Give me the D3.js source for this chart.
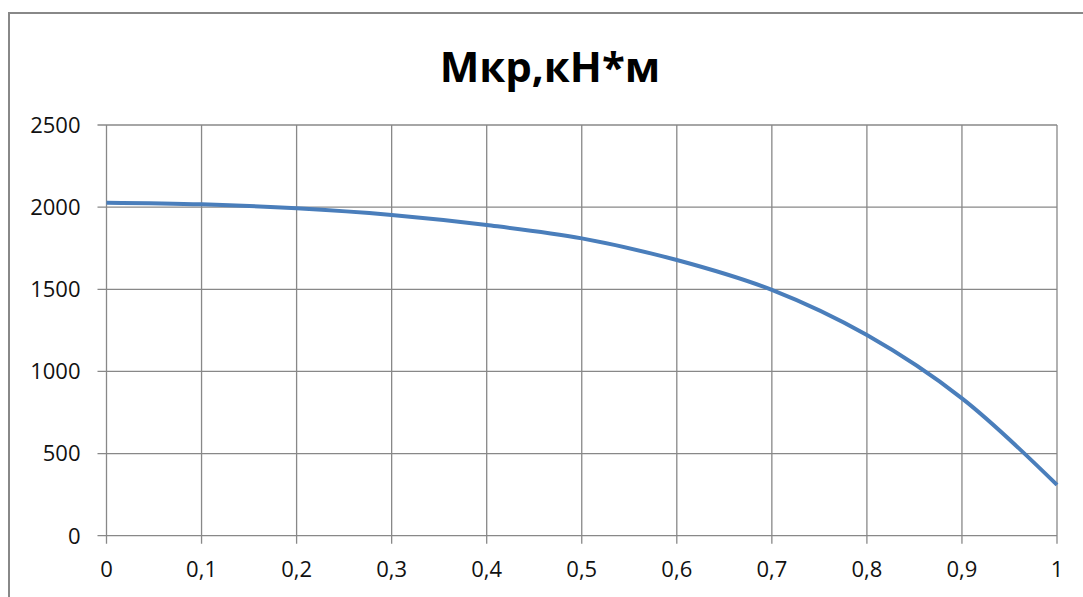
<!DOCTYPE html>
<html>
<head>
<meta charset="utf-8">
<script src="https://cdn.jsdelivr.net/npm/d3@7"></script>
<style>
  html, body { margin: 0; padding: 0; background: #fff; }
  svg { display: block; }
</style>
</head>
<body>
<div id="chart"></div>
<script>
let title = 'Мкр,кН*м'
let xValues = [0, 0.1, 0.2, 0.3, 0.4, 0.5, 0.6, 0.7, 0.8, 0.9, 1]
let mkrValues = [2027, 2017, 1993, 1952, 1891, 1810, 1678, 1496, 1221, 836, 309]
let xTicks = [0, 0.1, 0.2, 0.3, 0.4, 0.5, 0.6, 0.7, 0.8, 0.9, 1]
let xTickLabels = ['0', '0,1', '0,2', '0,3', '0,4', '0,5', '0,6', '0,7', '0,8', '0,9', '1']
let yTicks = [0, 500, 1000, 1500, 2000, 2500]

let width = 1083
let height = 597
let gridColor = '#888888'
let lineColor = '#4a7ebb'
let fontFamily = '"Open Sans", "Noto Sans", sans-serif'

let svg = d3.select('#chart').append('svg')
    .attr('width', width)
    .attr('height', height)

// outer chart border (runs off the right/bottom of the picture)
svg.append('rect')
    .attr('x', 9)
    .attr('y', 13)
    .attr('width', width)
    .attr('height', height)
    .attr('fill', 'none')
    .attr('stroke', gridColor)
    .attr('stroke-width', 2)

let x = d3.scaleLinear()
    .domain([0, 1])
    .range([106.5, 1057])
let y = d3.scaleLinear()
    .domain([0, 2500])
    .range([535.7, 125])

// horizontal grid lines, with small tick outside on the left
svg.append('g').selectAll('line')
    .data(yTicks)
    .join('line')
    .attr('x1', x(0) - 9)
    .attr('x2', x(1))
    .attr('y1', d => y(d))
    .attr('y2', d => y(d))
    .attr('stroke', gridColor)
    .attr('stroke-width', 1.3)

// vertical grid lines, with small tick below
svg.append('g').selectAll('line')
    .data(xTicks)
    .join('line')
    .attr('x1', d => x(d))
    .attr('x2', d => x(d))
    .attr('y1', y(2500))
    .attr('y2', y(0) + 8)
    .attr('stroke', gridColor)
    .attr('stroke-width', 1.3)

// y labels
svg.append('g').selectAll('text')
    .data(yTicks)
    .join('text')
    .attr('x', x(0) - 26)
    .attr('y', d => y(d))
    .attr('dy', '0.36em')
    .attr('text-anchor', 'end')
    .attr('font-family', fontFamily)
    .attr('font-size', 22)
    .attr('fill', '#111')
    .text(d => d)

// x labels
svg.append('g').selectAll('text')
    .data(xTicks)
    .join('text')
    .attr('x', d => x(d))
    .attr('y', 577)
    .attr('text-anchor', 'middle')
    .attr('font-family', fontFamily)
    .attr('font-size', 22)
    .attr('fill', '#111')
    .text((d, i) => xTickLabels[i])

// the curve
let points = xValues.map((v, i) => [v, mkrValues[i]])
let line = d3.line()
    .x(d => x(d[0]))
    .y(d => y(d[1]))
    .curve(d3.curveCatmullRom.alpha(0.5))

svg.append('path')
    .datum(points)
    .attr('d', line)
    .attr('fill', 'none')
    .attr('stroke', lineColor)
    .attr('stroke-width', 4)
    .attr('stroke-linecap', 'butt')

// title
svg.append('text')
    .attr('x', 550)
    .attr('y', 82)
    .attr('text-anchor', 'middle')
    .attr('font-family', fontFamily)
    .attr('font-weight', 'bold')
    .attr('font-size', 42)
    .attr('fill', '#000')
    .text(title)
</script>
</body>
</html>
